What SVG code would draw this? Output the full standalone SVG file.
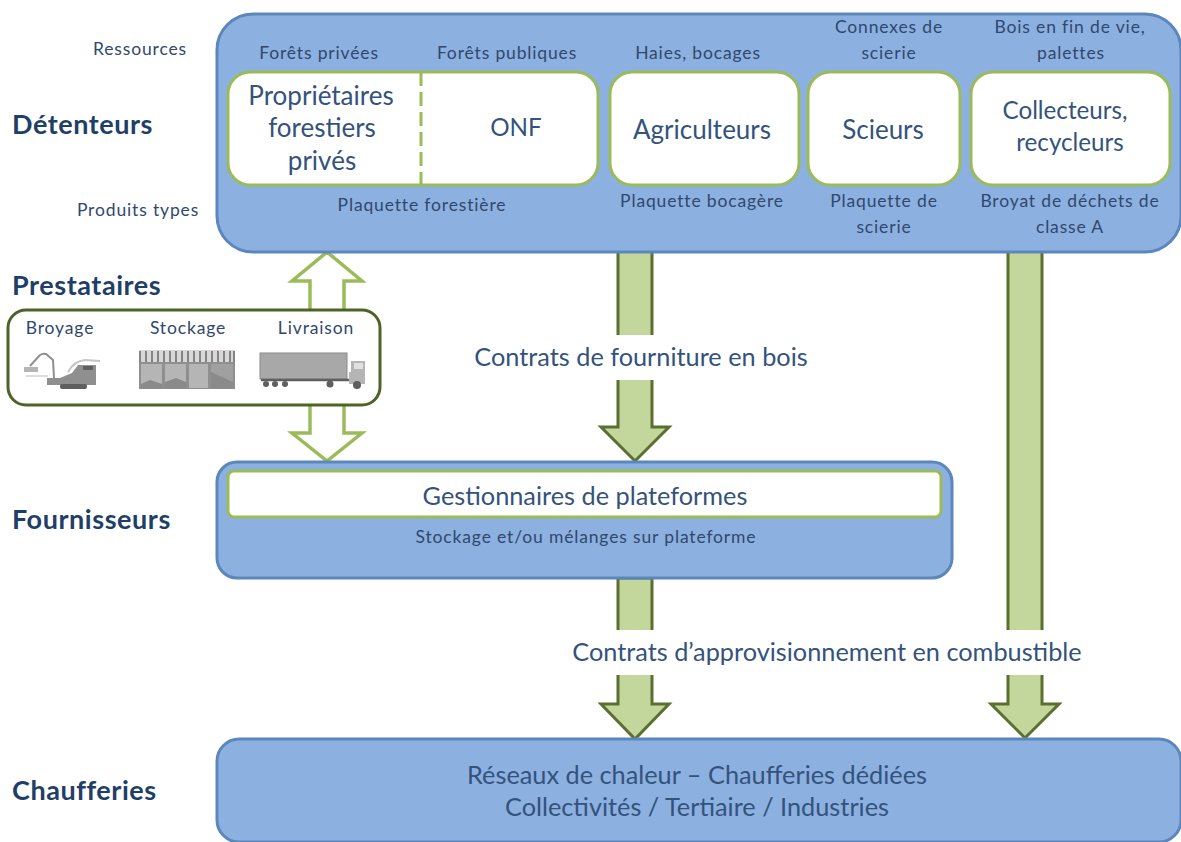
<svg xmlns="http://www.w3.org/2000/svg" width="1181" height="842" viewBox="0 0 1181 842">
<style>
text{font-family:Lato,"Open Sans","Liberation Sans",sans-serif;fill:#2f4f78;text-anchor:middle}
.h{font-size:27px;font-weight:700;letter-spacing:.55px;fill:#1f3f68;text-anchor:start}
.s{font-size:17.5px;letter-spacing:.85px;fill:#30486e}
.m{font-size:26px;fill:#34537c}
.n{font-size:24.2px;fill:#34537c}
.l{font-size:25.3px;fill:#34537c}
.blue{fill:#8cb0e0;stroke:#5b87bd;stroke-width:3}
.in{fill:#fff;stroke:#9bbb59;stroke-width:3}
.arr{fill:#c3d69b;stroke:#5b7030;stroke-width:3}
.fill{fill:#c3d69b}
.edge{fill:none;stroke:#5b7030;stroke-width:3}
.oarr{fill:#fff;stroke:#9bbb59;stroke-width:3.5}
.g1{fill:#8f8f8f}.g2{fill:#b5b5b5}.g3{fill:#5f5f5f}
</style>
<defs><filter id="soft" x="-10%" y="-10%" width="120%" height="120%"><feGaussianBlur stdDeviation="0.6"/></filter></defs>
<rect width="1181" height="842" fill="#fff"/>
<g id="connectors">
<rect class="fill" x="618" y="253" width="34" height="82"/><path class="edge" d="M618 253V335M652 253V335"/>
<path class="arr" d="M618 380V427H601L635 461L669 427H652V380"/>
<path class="arr" d="M618 630V578H652V630"/>
<path class="arr" d="M618 675V704H601L635 739L669 704H652V675"/>
<rect class="fill" x="1008" y="253" width="34" height="377"/><path class="edge" d="M1008 253V630M1042 253V630"/>
<path class="arr" d="M1008 675V704H991L1025 738L1059 704H1042V675"/>
<path class="oarr" d="M310 310V281H292L327 252L362 281H344V310"/>
<path class="oarr" d="M310 405V433H292L327 461L362 433H344V405"/>
</g>
<g id="detenteurs">
<rect class="blue" x="217" y="14" width="964" height="238" rx="36"/>
<text class="s" x="319" y="59">Forêts privées</text>
<text class="s" x="507" y="59">Forêts publiques</text>
<text class="s" x="698" y="59">Haies, bocages</text>
<text class="s" x="889" y="33">Connexes de</text>
<text class="s" x="889" y="59">scierie</text>
<text class="s" x="1070" y="33">Bois en fin de vie,</text>
<text class="s" x="1071" y="59">palettes</text>
<text class="s" x="422" y="211">Plaquette forestière</text>
<text class="s" x="702" y="207">Plaquette bocagère</text>
<text class="s" x="884" y="207">Plaquette de</text>
<text class="s" x="884" y="233">scierie</text>
<text class="s" x="1070" y="207">Broyat de déchets de</text>
<text class="s" x="1070" y="233">classe A</text>
</g>
<g id="foret">
<rect class="in" x="228" y="72" width="370" height="113" rx="22"/>
<path d="M421 72V185" fill="none" stroke="#9bbb59" stroke-width="3" stroke-dasharray="14 6"/>
<text class="m" x="321" y="105">Propriétaires</text>
<text class="m" x="322" y="137">forestiers</text>
<text class="m" x="322" y="170">privés</text>
<text class="n" x="516" y="136">ONF</text>
</g>
<g id="agriculteurs"><rect class="in" x="610" y="72" width="189" height="113" rx="22"/><text class="m" x="702" y="139">Agriculteurs</text></g>
<g id="scieurs"><rect class="in" x="808" y="72" width="152" height="113" rx="22"/><text class="m" x="883" y="139">Scieurs</text></g>
<g id="collecteurs"><rect class="in" x="971" y="72" width="199" height="113" rx="22"/><text class="n" x="1065" y="119">Collecteurs,</text><text class="n" x="1070" y="151">recycleurs</text></g>
<g id="prestataires">
<rect x="8" y="310" width="372" height="95" rx="18" fill="#fff" stroke="#4f6228" stroke-width="3"/>
<text class="s" x="60" y="334">Broyage</text>
<text class="s" x="188" y="334">Stockage</text>
<text class="s" x="316" y="334">Livraison</text>
<g id="icon-broyage" filter="url(#soft)">
<path d="M30 366L40 355Q43 353 46 354L53 360L54 378" fill="none" stroke="#8f8f8f" stroke-width="2"/>
<rect class="g2" x="24" y="367" width="14" height="5"/>
<path d="M26 376H48" stroke="#ddd" stroke-width="2"/>
<path class="g1" d="M47 378H60L72 373L78 365H96V385H47Z"/>
<rect class="g3" x="83" y="366" width="10" height="4"/>
<path d="M68 372Q74 361 85 360L100 361" fill="none" stroke="#c4c4c4" stroke-width="2"/>
<rect class="g3" x="60" y="384" width="27" height="5" rx="2"/>
</g>
<g id="icon-stockage" filter="url(#soft)">
<rect class="g1" x="139" y="350" width="96" height="39"/>
<rect x="139" y="350" width="96" height="12" fill="#d8d8d8"/>
<path d="M140 351V362M146 351V362M152 351V362M158 351V362M164 351V362M170 351V362M176 351V362M182 351V362M188 351V362M194 351V362M200 351V362M206 351V362M212 351V362M218 351V362M224 351V362M230 351V362M234 351V362" stroke="#707070" stroke-width="1.6"/>
<path class="g2" d="M141 364H162V388H141ZM165 364H186V388H165ZM189 364H208V388H189Z"/>
<path fill="#a0a0a0" d="M211 364H233V388H211Z"/>
<path fill="#8a8a8a" d="M141 388V384L150 380L162 384V388ZM165 388V382L176 378L186 382V388ZM211 372L233 382V388H211Z"/>
</g>
<g id="icon-livraison" filter="url(#soft)">
<rect x="260" y="353" width="87" height="26" fill="#a8a8a8" stroke="#8a8a8a"/>
<path d="M261 380H352" stroke="#5f5f5f" stroke-width="2.5"/>
<path class="g2" d="M351 361H365V384H349V372H351Z"/>
<rect x="354" y="363" width="9" height="6" fill="#e0e0e0"/>
<circle class="g3" cx="266" cy="384" r="3"/><circle class="g3" cx="275" cy="384" r="3"/><circle class="g3" cx="285" cy="384" r="3"/><circle class="g3" cx="330" cy="384" r="3.5"/><circle class="g3" cx="357" cy="385" r="4"/>
</g>
</g>
<g id="fournisseurs">
<rect class="blue" x="217" y="462" width="735" height="116" rx="20"/>
<rect class="in" x="228" y="471" width="713" height="46" rx="6"/>
<text class="l" x="585" y="505">Gestionnaires de plateformes</text>
<text class="s" x="586" y="543">Stockage et/ou mélanges sur plateforme</text>
</g>
<g id="chaufferies">
<rect class="blue" x="217" y="739" width="964" height="103" rx="22"/>
<text class="l" x="697" y="784">Réseaux de chaleur – Chaufferies dédiées</text>
<text class="l" x="697" y="816">Collectivités / Tertiaire / Industries</text>
</g>
<g id="labels">
<text class="s" x="140" y="55">Ressources</text>
<text class="s" x="138" y="216">Produits types</text>
<text class="h" x="12" y="134">Détenteurs</text>
<text class="h" x="12" y="295">Prestataires</text>
<text class="h" x="12" y="529">Fournisseurs</text>
<text class="h" x="12" y="800">Chaufferies</text>
<text class="l" x="641" y="366">Contrats de fourniture en bois</text>
<text class="l" x="827" y="661">Contrats d’approvisionnement en combustible</text>
</g>
</svg>
